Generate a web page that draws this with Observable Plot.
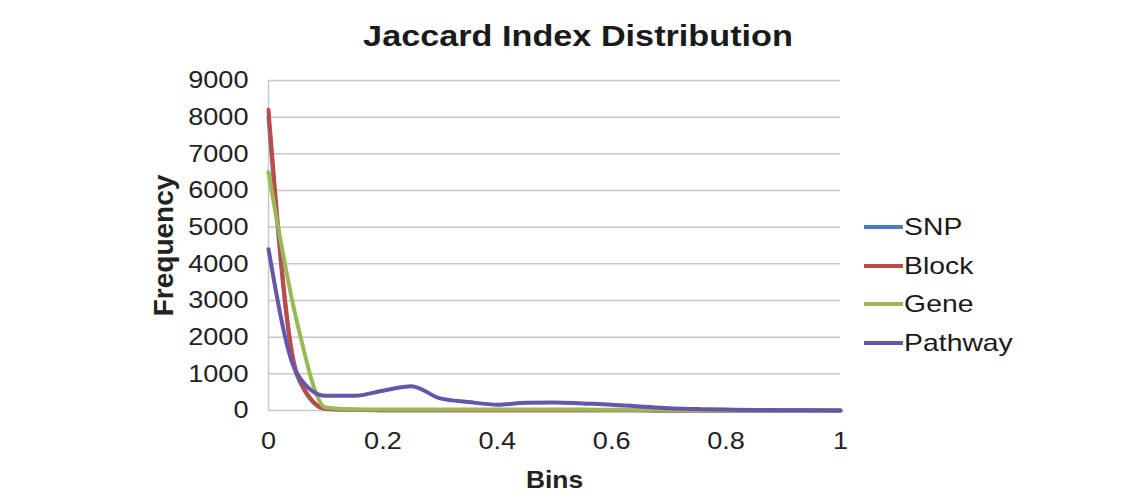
<!DOCTYPE html>
<html>
<head>
<meta charset="utf-8">
<script src="https://cdn.jsdelivr.net/npm/d3@7"></script>
<script src="https://cdn.jsdelivr.net/npm/@observablehq/plot@0.6"></script>
<style>
  html, body { margin: 0; padding: 0; background: #fff; }
  #wrap { position: relative; width: 1138px; height: 491px; font-family: "Liberation Sans", Arial, sans-serif; overflow: hidden; }
  #title { position: absolute; left: 0; width: 1156px; top: 20px; text-align: center; font-weight: bold; font-size: 29px; color: #1a1a1a; transform: scaleX(1.18); transform-origin: 578px 0; }
  #legend { position: absolute; left: 864px; top: 208px; font-size: 24px; color: #1a1a1a; transform: scaleX(1.18); transform-origin: 0 0; }
  #legend .item { display: flex; align-items: center; height: 38.5px; }
  #legend .sw { width: 33px; height: 4px; margin-right: 1px; }
  #plot { position: absolute; left: 0; top: 0; }
</style>
</head>
<body>
<div id="wrap">
  <div id="plot"></div>
  <div id="title"></div>
  <div id="legend"></div>
</div>
<script>
const title = "Jaccard Index Distribution";
const xLabel = "Bins";
const yLabel = "Frequency";
const bins = [0, 0.05, 0.1, 0.15, 0.2, 0.25, 0.3, 0.35, 0.4, 0.45, 0.5, 0.55, 0.6, 0.65, 0.7, 0.75, 0.8, 0.85, 0.9, 0.95, 1];
const seriesNames = ["SNP", "Block", "Gene", "Pathway"];
const seriesColors = ["#4a7ebb", "#be4b48", "#98b954", "#6655aa"];
const snp = [8000, 950, 40, 20, 10, 10, 5, 5, 5, 5, 5, 5, 5, 5, 0, 0, 0, 0, 0, 0, 0];
const block = [8200, 1000, 50, 20, 10, 10, 5, 5, 5, 5, 5, 5, 5, 5, 0, 0, 0, 0, 0, 0, 0];
const gene = [6500, 2400, 80, 30, 25, 25, 25, 25, 25, 25, 25, 25, 20, 20, 15, 10, 10, 5, 5, 5, 0];
const pathway = [4400, 1000, 400, 400, 540, 660, 330, 230, 160, 210, 220, 190, 160, 110, 60, 40, 25, 15, 10, 5, 0];
const xTicks = [0, 0.2, 0.4, 0.6, 0.8, 1];
const yTicks = [0, 1000, 2000, 3000, 4000, 5000, 6000, 7000, 8000, 9000];

const seriesValues = [snp, block, gene, pathway];
const rows = [];
seriesNames.forEach((name, i) => {
  bins.forEach((b, j) => rows.push({series: name, bin: b, freq: seriesValues[i][j]}));
});

const chart = Plot.plot({
  width: 1138,
  height: 491,
  marginLeft: 268,
  marginRight: 298,
  marginTop: 80,
  marginBottom: 81,
  style: {fontFamily: "'Liberation Sans', Arial, sans-serif", fontSize: "24px", color: "#222", background: "transparent"},
  x: {domain: [0, 1], ticks: xTicks, tickFormat: d => String(d), label: null},
  y: {domain: [0, 9000], ticks: yTicks, tickFormat: d => String(d), label: null},
  color: {domain: seriesNames, range: seriesColors},
  marks: [
    Plot.gridY(yTicks, {stroke: "#c8c8c8", strokeOpacity: 1, strokeWidth: 1.5}),
    Plot.ruleX([0], {stroke: "#c8c8c8", strokeWidth: 1.5}),
    Plot.axisY({ticks: yTicks, tickSize: 0, tickPadding: 20, tickFormat: d => String(d), label: null, fontSize: 24, className: "yax"}),
    Plot.axisX({ticks: xTicks, tickSize: 0, tickPadding: 21, tickFormat: d => String(d), label: null, fontSize: 24, className: "xax"}),
    Plot.line(rows, {x: "bin", y: "freq", z: "series", stroke: "series", strokeWidth: 4, curve: "monotone-x"}),
    Plot.text([yLabel], {frameAnchor: "left", textAnchor: "middle", dx: -104, rotate: -90, text: d => d, fontWeight: "bold", fontSize: 28, fill: "#222"}),
    Plot.text([xLabel], {frameAnchor: "bottom", dy: 77, text: d => d, fontWeight: "bold", fontSize: 24, fill: "#222", className: "xlab"})
  ]
});
document.getElementById("plot").appendChild(chart);

// Horizontal stretch of horizontal texts around their anchor (reference glyphs are wider than tall)
function stretch(nodes, s, anchor) {
  nodes.forEach(node => {
    const t = node.getAttribute("transform") || "";
    if (/rotate/.test(t)) return;
    const b = node.getBBox();
    const ax = anchor === "end" ? b.x + b.width : b.x + b.width / 2;
    node.setAttribute("transform", `${t} translate(${ax},0) scale(${s},1) translate(${-ax},0)`.trim());
  });
}
stretch(Array.from(chart.querySelectorAll("g.yax text, g[aria-label='y-axis tick label'] text")), 1.13, "end");
stretch(Array.from(chart.querySelectorAll("g.xax text, g[aria-label='x-axis tick label'] text")), 1.13, "middle");
stretch(Array.from(chart.querySelectorAll("g.xlab text")), 1.1, "middle");

document.getElementById("title").textContent = title;
const leg = document.getElementById("legend");
seriesNames.forEach((n, i) => {
  const it = document.createElement("div");
  it.className = "item";
  const sw = document.createElement("span");
  sw.className = "sw";
  sw.style.background = seriesColors[i];
  const t = document.createElement("span");
  t.textContent = n;
  it.appendChild(sw); it.appendChild(t);
  leg.appendChild(it);
});
</script>
</body>
</html>
